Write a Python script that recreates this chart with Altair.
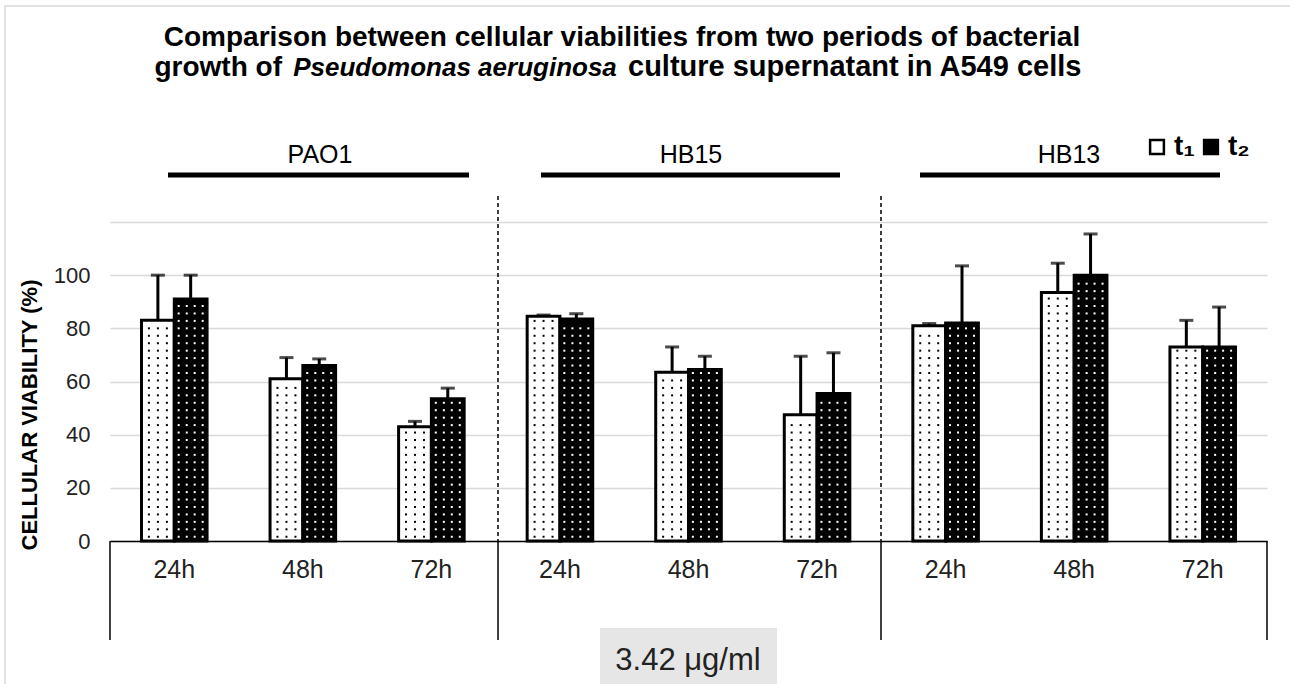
import altair as alt
import pandas as pd

# ---------------- data ----------------
groups = ["PAO1", "PAO1", "PAO1", "HB15", "HB15", "HB15", "HB13", "HB13", "HB13"]
times = ["24h", "48h", "72h", "24h", "48h", "72h", "24h", "48h", "72h"]
series_names = ["t1", "t2"]
t1_values = [83, 61, 43, 84.5, 63.5, 47.5, 81, 93.5, 73]
t1_errors = [17, 8, 2, 0.5, 9.5, 22, 0.8, 11, 10]
t2_values = [91, 66, 53.5, 83.5, 64.5, 55.5, 82, 100, 73]
t2_errors = [9, 2.5, 4, 2, 5, 15.3, 21.5, 15.5, 15]
y_ticks = [0, 20, 40, 60, 80, 100, 120]
group_labels = ["PAO1", "HB15", "HB13"]

keys = [f"{g}|{t}" for g, t in zip(groups, times)]

rows = []
for k, v, e in zip(keys, t1_values, t1_errors):
    rows.append({"key": k, "series": "t1", "value": v, "upper": v + e})
for k, v, e in zip(keys, t2_values, t2_errors):
    rows.append({"key": k, "series": "t2", "value": v, "upper": v + e})
df = pd.DataFrame(rows)

# dotted fill texture (decoration derived from the bar heights)
dot_cols = {"t1": [0.113, 0.25, 0.387], "t2": [0.567, 0.69, 0.811, 0.933]}
dot_rows = []
for r in rows:
    y = 1.6
    while y < r["value"] - 1.2:
        for u in dot_cols[r["series"]]:
            dot_rows.append({"key": r["key"], "series": r["series"], "y": y, "u": u})
        y += 2.8
dots = pd.DataFrame(dot_rows)

W, H = 1157, 319
FONT = "Liberation Sans"

x_enc = alt.X("key:N", sort=keys,
              scale=alt.Scale(domain=keys, paddingInner=0.49, paddingOuter=0.245),
              axis=alt.Axis(title=None, labelExpr="split(datum.value, '|')[1]",
                            labelAngle=0, labelFontSize=25, labelFont=FONT,
                            labelColor="#222222", labelPadding=16,
                            ticks=False, domain=True, domainColor="black",
                            domainWidth=1.5, grid=False))
x_plain = alt.X("key:N", sort=keys)
off_scale = alt.Scale(domain=series_names, paddingInner=0, paddingOuter=0)
xoff = alt.XOffset("series:N", scale=off_scale)
y_scale = alt.Scale(domain=[0, 120], nice=False)

base = alt.Chart(df)

bars = base.mark_bar(stroke="black", strokeWidth=3).encode(
    x=x_enc,
    xOffset=xoff,
    y=alt.Y("value:Q", scale=y_scale,
            axis=alt.Axis(title=None, values=y_ticks,
                          labelExpr="datum.value == 120 ? '' : datum.label",
                          labelFontSize=22, labelFont=FONT, labelColor="#222222",
                          labelPadding=20, ticks=False, domain=False,
                          grid=True, gridColor="#d9d9d9", gridWidth=1.5)),
    fill=alt.Fill("series:N", scale=alt.Scale(domain=series_names, range=["white", "black"]),
                  legend=alt.Legend(title=None, orient="none", direction="horizontal",
                                    legendX=1033, legendY=-89,
                                    symbolType="square", symbolSize=190,
                                    symbolStrokeColor="black", symbolStrokeWidth=2.5,
                                    labelExpr="datum.value == 't1' ? 't₁' : 't₂'",
                                    labelFontSize=28, labelFontWeight="bold",
                                    labelFont=FONT, labelColor="black",
                                    columnPadding=2, labelOffset=3)),
)

dot_layers = []
for s, col in [("t1", "black"), ("t2", "white")]:
    dot_layers.append(
        alt.Chart(dots).transform_filter(alt.datum.series == s)
        .mark_square(size=4, color=col, opacity=1)
        .encode(x=x_plain,
                xOffset=alt.XOffset("u:Q", scale=alt.Scale(domain=[0, 1], nice=False, zero=False)),
                y=alt.Y("y:Q"))
    )

err_rule = base.mark_rule(color="black", strokeWidth=3).encode(
    x=x_plain, xOffset=xoff, y="value:Q", y2="upper:Q")
err_cap = base.mark_tick(color="black", thickness=3, size=14).encode(
    x=x_plain, xOffset=xoff, y="upper:Q")

one = pd.DataFrame({"a": [0]})

def text(t, x, y, size, weight="normal", style="normal", align="center",
         angle=0, baseline="alphabetic", color="black"):
    kw = dict(fontSize=size, fontWeight=weight, fontStyle=style, align=align,
              baseline=baseline, font=FONT, color=color, text=t)
    if angle:
        kw["angle"] = angle
    return alt.Chart(one).mark_text(**kw).encode(x=alt.value(x), y=alt.value(y))

def rule(x, x2, y, y2, width=1.5, dash=None, color="black"):
    kw = dict(color=color, strokeWidth=width)
    if dash:
        kw["strokeDash"] = dash
    return alt.Chart(one).mark_rule(**kw).encode(
        x=alt.value(x), x2=alt.value(x2), y=alt.value(y), y2=alt.value(y2))

deco = [
    # outer light border
    alt.Chart(one).mark_rect(fill="white", fillOpacity=0, stroke="#d9d9d9", strokeWidth=1.5)
    .encode(x=alt.value(-105), x2=alt.value(1400), y=alt.value(-216), y2=alt.value(600)),
    # title
    text("Comparison between cellular viabilities from two periods of bacterial", 512, -176, 28, "bold"),
    text("growth of", 172, -146, 28, "bold", align="right"),
    text("Pseudomonas aeruginosa", 345, -146, 26, "bold", "italic"),
    text("culture supernatant in A549 cells", 518, -146, 29, "bold", align="left"),
    # y title
    text("CELLULAR VIABILITY (%)", -80, 193, 22, "bold", angle=270, baseline="middle"),
    # group labels and bars
    text(group_labels[0], 210, -59, 25),
    text(group_labels[1], 581, -59, 25),
    text(group_labels[2], 959, -59, 25),
    rule(58, 359, -47, -47, width=5),
    rule(431, 730, -47, -47, width=5),
    rule(810, 1110, -47, -47, width=5),
    # dashed separators
    rule(388, 388, -26, H, dash=[4, 3]),
    rule(771, 771, -26, H, dash=[4, 3]),
    # lower separators
    rule(0, 0, H, H + 99),
    rule(388, 388, H, H + 99),
    rule(771, 771, H, H + 99),
    rule(W, W, H, H + 99),
    # concentration box
    alt.Chart(one).mark_rect(fill="#e6e6e6").encode(
        x=alt.value(490), x2=alt.value(667), y=alt.value(406), y2=alt.value(470)),
    text("3.42 μg/ml", 578, 448, 31, color="#222222"),
]

chart = alt.layer(bars, *dot_layers, err_rule, err_cap, *deco).resolve_scale(
    xOffset="independent"
).properties(
    width=W, height=H,
    autosize=alt.AutoSizeParams(type="none"),
    padding={"left": 110, "top": 222, "right": 23, "bottom": 143},
    background="white",
).configure_view(stroke=None)

chart.save("out.html", embed_options={"renderer": "svg", "actions": False})
